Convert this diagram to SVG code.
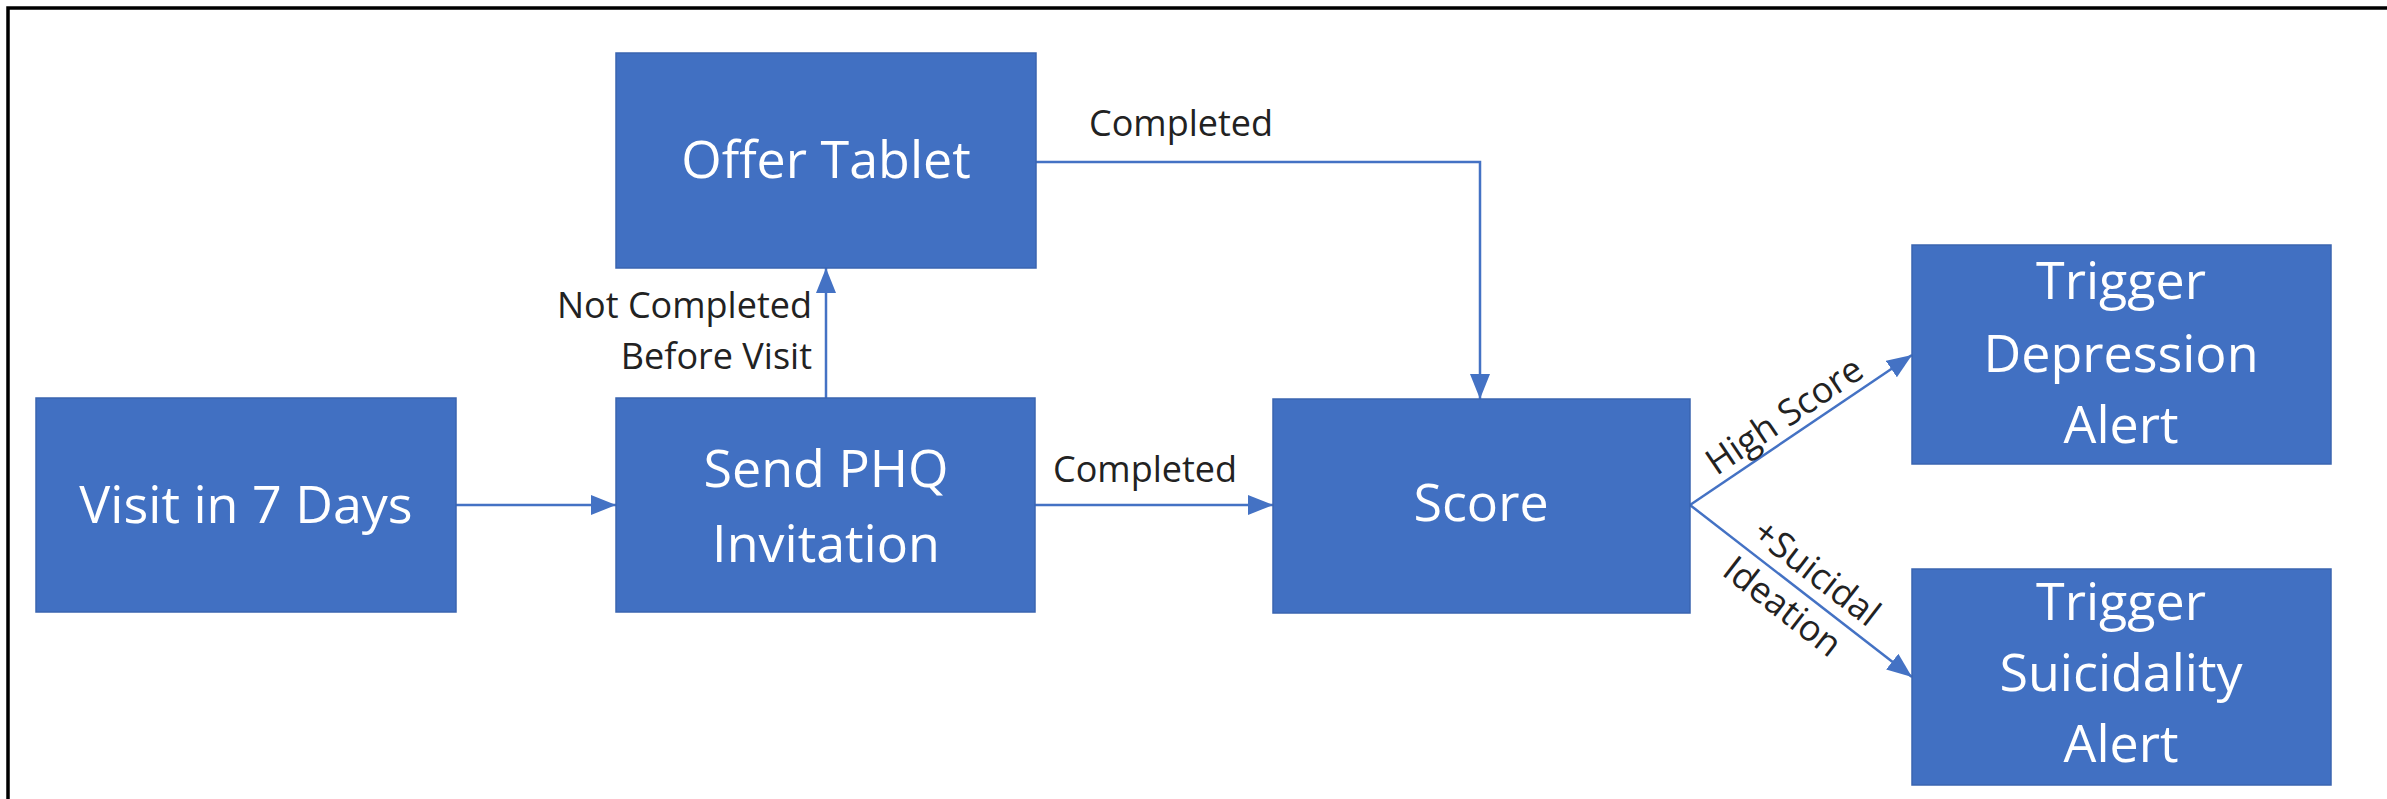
<svg xmlns="http://www.w3.org/2000/svg" width="2387" height="799" viewBox="0 0 2387 799">
  <defs>
    <marker id="arrow" viewBox="0 0 25 20" refX="25" refY="10" markerWidth="25" markerHeight="20" markerUnits="userSpaceOnUse" orient="auto">
      <path d="M0,0 L25,10 L0,20 Z" fill="#4472C4"/>
    </marker>
    <style>
      .box { fill: #4170C2; stroke: #3A64B0; stroke-width: 1.5; }
      .ntext { font-family: "Open Sans", "Noto Sans", "Liberation Sans", sans-serif; font-size: 52px; fill: #FFFFFF; text-anchor: middle; }
      .ltext { font-family: "Open Sans", "Noto Sans", "Liberation Sans", sans-serif; font-size: 36px; fill: #222222; }
      .conn { fill: none; stroke: #4472C4; stroke-width: 2.5; marker-end: url(#arrow); }
      .frame { fill: none; stroke: #000000; stroke-width: 3.5; }
    </style>
  </defs>
  <rect x="0" y="0" width="2387" height="799" fill="#FFFFFF"/>
  <path class="frame" d="M8,799 V8 H2387"/>

  <g id="connectors">
    <path class="conn" d="M456,505 H616"/>
    <path class="conn" d="M826,399 V268"/>
    <path class="conn" d="M1036,162 H1480 V399"/>
    <path class="conn" d="M1035,505 H1273"/>
    <path class="conn" d="M1690,505 L1912,355"/>
    <path class="conn" d="M1690,505 L1912,677"/>
    <text class="ltext" x="1181" y="136" text-anchor="middle">Completed</text>
    <text class="ltext" x="1145" y="482" text-anchor="middle">Completed</text>
    <text class="ltext" x="812" y="318" text-anchor="end">Not Completed</text>
    <text class="ltext" x="812" y="369" text-anchor="end">Before Visit</text>
    <text class="ltext" transform="translate(1784,415) rotate(-34)" x="0" y="13" text-anchor="middle">High Score</text>
    <text class="ltext" transform="translate(1817,572) rotate(37.8)" x="0" y="13" text-anchor="middle">+Suicidal</text>
    <text class="ltext" transform="translate(1783,606) rotate(37.8)" x="0" y="13" text-anchor="middle">Ideation</text>
  </g>

  <g id="node-visit">
    <rect class="box" x="36" y="398" width="420" height="214"/>
    <text class="ntext" x="246" y="523">Visit in 7 Days</text>
  </g>
  <g id="node-send">
    <rect class="box" x="616" y="398" width="419" height="214"/>
    <text class="ntext" x="826" y="487">Send PHQ</text>
    <text class="ntext" x="826" y="562">Invitation</text>
  </g>
  <g id="node-offer">
    <rect class="box" x="616" y="53" width="420" height="215"/>
    <text class="ntext" x="826" y="178">Offer Tablet</text>
  </g>
  <g id="node-score">
    <rect class="box" x="1273" y="399" width="417" height="214"/>
    <text class="ntext" x="1481" y="521">Score</text>
  </g>
  <g id="node-depression">
    <rect class="box" x="1912" y="245" width="419" height="219"/>
    <text class="ntext" x="2121" y="299">Trigger</text>
    <text class="ntext" x="2121" y="372">Depression</text>
    <text class="ntext" x="2121" y="443">Alert</text>
  </g>
  <g id="node-suicidality">
    <rect class="box" x="1912" y="569" width="419" height="216"/>
    <text class="ntext" x="2121" y="620">Trigger</text>
    <text class="ntext" x="2121" y="691">Suicidality</text>
    <text class="ntext" x="2121" y="762">Alert</text>
  </g>
</svg>
